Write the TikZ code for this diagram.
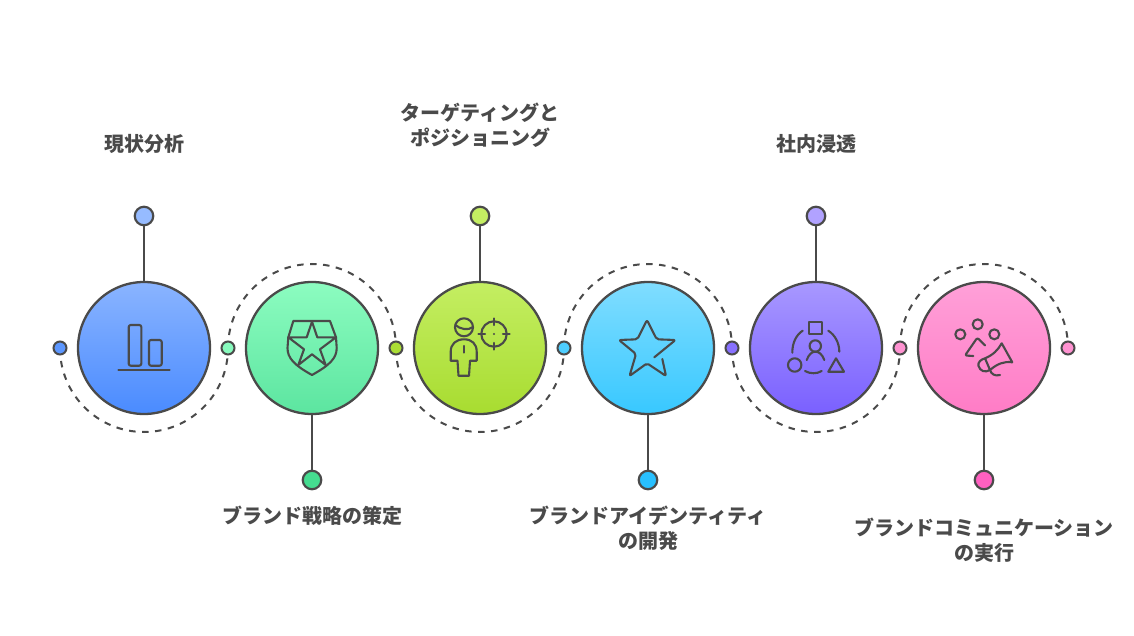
\documentclass[tikz,border=0pt]{standalone}
\usepackage{fontspec}
\newfontfamily\jpfont{Noto Sans CJK JP}
\definecolor{ink}{HTML}{4A4A4A}
\definecolor{blueT}{HTML}{8AB4FF}\definecolor{blueB}{HTML}{4A8BFF}
\definecolor{greenT}{HTML}{8CFCC0}\definecolor{greenB}{HTML}{5CE5A0}
\definecolor{limeT}{HTML}{C4EE62}\definecolor{limeB}{HTML}{A8DC30}
\definecolor{cyanT}{HTML}{80DDFF}\definecolor{cyanB}{HTML}{38C8FF}
\definecolor{purpT}{HTML}{A898FF}\definecolor{purpB}{HTML}{7A60FF}
\definecolor{pinkT}{HTML}{FFA0D8}\definecolor{pinkB}{HTML}{FF7CC6}
\definecolor{pinG}{HTML}{45DC90}\definecolor{pinC}{HTML}{28C0FF}\definecolor{pinP}{HTML}{FF60C0}
\tikzset{
  x=1pt,y=-1pt,
  bigc/.style n args={2}{circle,draw=ink,line width=2.3pt,minimum size=132pt,inner sep=0pt,top color=#1,bottom color=#2,shading angle=0},
  smalldot/.style={circle,draw=ink,line width=2pt,minimum size=13pt,inner sep=0pt,fill=#1},
  pindot/.style={circle,draw=ink,line width=2.2pt,minimum size=18.5pt,inner sep=0pt,fill=#1},
  stem/.style={draw=ink,line width=2.3pt},
  arcline/.style={draw=ink,line width=2pt,dash pattern=on 6.5pt off 6.5pt},
  icon/.style={draw=ink,line width=2.1pt,line cap=round,line join=round},
  lbl/.style={text=ink,font=\jpfont\bfseries\fontsize{20}{25}\selectfont,align=center,inner sep=0pt},
}
\begin{document}
\begin{tikzpicture}
\useasboundingbox (0,0) rectangle (1134,636);
% anchor points of the arcs
\coordinate (a0) at (60,348);
\coordinate (a1) at (228,348);
\coordinate (a2) at (396,348);
\coordinate (a3) at (564,348);
\coordinate (a4) at (732,348);
\coordinate (a5) at (900,348);
% dashed arcs
\draw[arcline] (a0) arc[start angle=180,end angle=360,x radius=84pt,y radius=84pt];
\draw[arcline] (a1) arc[start angle=180,end angle=0,x radius=84pt,y radius=84pt];
\draw[arcline] (a2) arc[start angle=180,end angle=360,x radius=84pt,y radius=84pt];
\draw[arcline] (a3) arc[start angle=180,end angle=0,x radius=84pt,y radius=84pt];
\draw[arcline] (a4) arc[start angle=180,end angle=360,x radius=84pt,y radius=84pt];
\draw[arcline] (a5) arc[start angle=180,end angle=0,x radius=84pt,y radius=84pt];
% small dots
\node[smalldot=blueB!90!white] (s0) at (a0) {};
\node[smalldot=greenT!90!greenB] (s1) at (a1) {};
\node[smalldot=limeB!90!limeT] (s2) at (a2) {};
\node[smalldot=cyanB!70!cyanT] (s3) at (a3) {};
\node[smalldot=purpB!70!purpT] (s4) at (a4) {};
\node[smalldot=pinkT!60!pinkB] (s5) at (a5) {};
\node[smalldot=pinkT!60!pinkB] (s6) at (1068,348) {};
% big circles
\node[bigc={blueT}{blueB}] (c1) at (144,348) {};
\node[bigc={greenT}{greenB}] (c2) at (312,348) {};
\node[bigc={limeT}{limeB}] (c3) at (480,348) {};
\node[bigc={cyanT}{cyanB}] (c4) at (648,348) {};
\node[bigc={purpT}{purpB}] (c5) at (816,348) {};
\node[bigc={pinkT}{pinkB}] (c6) at (984,348) {};
% pins
\node[pindot=blueT!90!white] (p1) at (144,216) {};
\node[pindot=pinG] (p2) at (312,480) {};
\node[pindot=limeT] (p3) at (480,216) {};
\node[pindot=pinC] (p4) at (648,480) {};
\node[pindot=purpT!90!white] (p5) at (816,216) {};
\node[pindot=pinP] (p6) at (984,480) {};
\draw[stem] (p1) -- (c1);
\draw[stem] (c2) -- (p2);
\draw[stem] (p3) -- (c3);
\draw[stem] (c4) -- (p4);
\draw[stem] (p5) -- (c5);
\draw[stem] (c6) -- (p6);
% labels
\node[lbl] (t1) at (144,144) {現状分析};
\node[lbl] (t2) at (312,516) {ブランド戦略の策定};
\node[lbl] (t3) at (480,125.5) {ターゲティングと\\ポジショニング};
\node[lbl] (t4) at (648,528.5) {ブランドアイデンティティ\\の開発};
\node[lbl] (t5) at (816,144) {社内浸透};
\node[lbl] (t6) at (984,540) {ブランドコミュニケーション\\の実行};
% icon 1: bars
\draw[icon,rounded corners=2pt] (128.7,325) rectangle (141.3,365.7);
\draw[icon,rounded corners=2pt] (149,340) rectangle (161.7,365.7);
\draw[icon] (118.3,370) -- (169.7,370);
% icon 2: shield and star
\draw[icon] (312,321.7) -- (317.3,337.3) -- (336,337.3) -- (320,349.3) -- (325.7,365) -- (312,354.3) -- (298.3,365) -- (304,349.3) -- (288.3,337.3) -- (306.7,337.3) -- cycle;
\draw[icon] (288.3,337.3) -- (293.3,321) -- (330,321) -- (336,337.3);
\draw[icon] (336,337.3) -- (336.7,348) .. controls (336.7,358) and (330,365) .. (312,375) .. controls (294,365) and (287.5,358) .. (287.5,348) -- (288.3,337.3);
% icon 3: person and target
\draw[icon] (464,327.3) circle[radius=9pt];
\draw[icon] (455.3,325) .. controls (460,329) and (468,331) .. (473,327);
\draw[icon] (494,334) circle[radius=12.7pt];
\draw[icon] (478.3,334) -- (485,334) (503,334) -- (509.7,334) (494,318.3) -- (494,325) (494,343) -- (494,349.7);
\fill[ink] (494,334) circle[radius=1.1pt];
\draw[icon] (450.7,360.7) -- (450.7,351.7) .. controls (450.7,344) and (456,339.3) .. (464,339.3) .. controls (472,339.3) and (476.7,344) .. (476.7,351.7) -- (476.7,360.7) -- (470,360.7) -- (469,375.7) -- (458.5,375.7) -- (457.5,360.7) -- cycle;
\draw[icon] (464,346) -- (464,352.7);
% icon 4: star
\draw[icon,rounded corners=2pt] (654.3,357.3) -- (675.5,340) -- (656.7,339.3) -- (647,320) -- (637.3,339.3) -- (619,340) -- (636,354) -- (629.5,376) -- (647,363.3) -- (666,376) -- (662.3,359);
% icon 5: people and shapes
\draw[icon] (809,321.7) rectangle (821.7,334);
\draw[icon] (815.3,346) circle[radius=5.7pt];
\draw[icon] (806.7,360) .. controls (809,354) and (812,351.7) .. (815.3,351.7) .. controls (819,351.7) and (822,354) .. (824.3,360);
\draw[icon] (802.7,330.7) .. controls (796,335) and (792.3,343) .. (792.3,352.7);
\draw[icon] (828.3,330.7) .. controls (835,335) and (839.3,343) .. (839.3,351.7);
\draw[icon] (805,371) .. controls (810,374) and (817,374) .. (821.7,371);
\draw[icon] (794.7,365) circle[radius=6.7pt];
\draw[icon] (836,358.3) -- (828.3,371.7) -- (844,371.7) -- cycle;
% icon 6: megaphone
\draw[icon] (960.3,334.3) circle[radius=5pt];
\draw[icon] (977.7,324.3) circle[radius=5pt];
\draw[icon] (994.3,334.3) circle[radius=5pt];
\draw[icon,rounded corners=2pt] (985,345.3) -- (977.3,337.7) -- (965,355.5) -- (973.3,356);
\draw[icon] (985,358.3) .. controls (993,355) and (998,350) .. (1001.7,343.3) -- (1012.3,362.3) .. controls (1004,361) and (997,364) .. (990,370) .. controls (985,373) and (980,371) .. (978.5,366) .. controls (977.5,362) and (981,359.5) .. (985,358.3) -- (990,370);
\draw[icon] (990,370) .. controls (991,374) and (995,376.5) .. (1000,375);
\end{tikzpicture}
\end{document}
